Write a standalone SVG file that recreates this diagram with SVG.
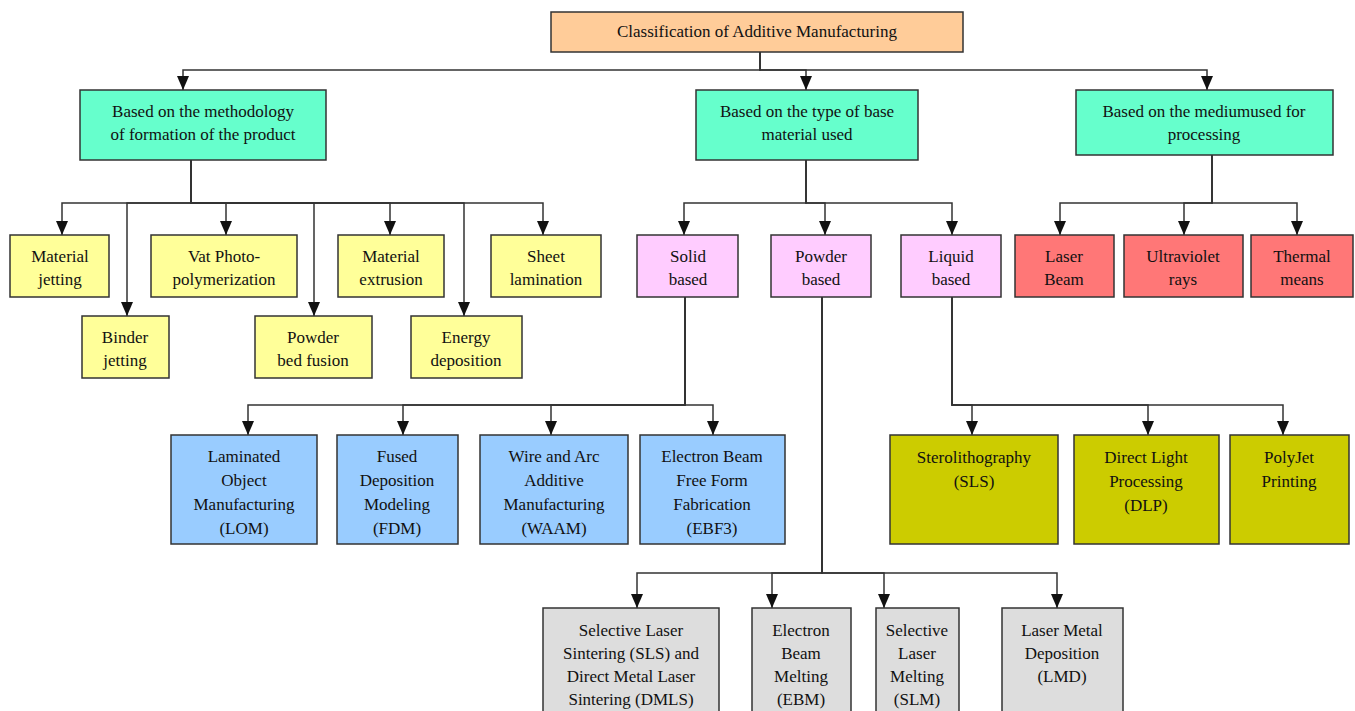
<svg xmlns="http://www.w3.org/2000/svg" width="1355" height="711" viewBox="0 0 1355 711">
<defs>
<marker id="ah" viewBox="0 0 14 12" refX="14" refY="6" markerWidth="14" markerHeight="12" markerUnits="userSpaceOnUse" orient="auto">
<path d="M0,0 L14,6 L0,12 z" fill="#111"/>
</marker>
<style>
.box{stroke:#333;stroke-width:1.5}
.root{fill:#FFCC99}
.teal{fill:#66FFCC}
.yel{fill:#FFFF99}
.pink{fill:#FFCCFF}
.red{fill:#FF7777}
.blue{fill:#99CCFF}
.olive{fill:#CCCC00}
.gray{fill:#DDDDDD}
text{font-family:"Liberation Serif","Times New Roman",serif;font-size:17px;fill:#111;text-anchor:middle}
.edge{fill:none;stroke:#333;stroke-width:1.5;marker-end:url(#ah)}
</style>
</defs>
<rect width="1355" height="711" fill="#fff"/>
<g id="connectors">
<path class="edge" d="M760,52 V70 H183 V90"/>
<path class="edge" d="M760,52 V70 H806 V90"/>
<path class="edge" d="M760,52 V70 H1207 V90"/>
<path class="edge" d="M191,160 V203 H62 V235"/>
<path class="edge" d="M191,160 V203 H127 V316"/>
<path class="edge" d="M191,160 V203 H226 V235"/>
<path class="edge" d="M191,160 V203 H314 V316"/>
<path class="edge" d="M191,160 V203 H390 V235"/>
<path class="edge" d="M191,160 V203 H464 V316"/>
<path class="edge" d="M191,160 V203 H543 V235"/>
<path class="edge" d="M806,160 V203 H684 V235"/>
<path class="edge" d="M806,160 V203 H825 V235"/>
<path class="edge" d="M806,160 V203 H952 V235"/>
<path class="edge" d="M1212,155 V203 H1060 V235"/>
<path class="edge" d="M1212,155 V203 H1184 V235"/>
<path class="edge" d="M1212,155 V203 H1297 V235"/>
<path class="edge" d="M685,297 V405 H248 V435"/>
<path class="edge" d="M685,297 V405 H403 V435"/>
<path class="edge" d="M685,297 V405 H551 V435"/>
<path class="edge" d="M685,297 V405 H713 V435"/>
<path class="edge" d="M952,297 V405 H972 V435"/>
<path class="edge" d="M952,297 V405 H1148 V435"/>
<path class="edge" d="M952,297 V405 H1283 V435"/>
<path class="edge" d="M822,297 V573 H637 V608"/>
<path class="edge" d="M822,297 V573 H772 V608"/>
<path class="edge" d="M822,297 V573 H884 V608"/>
<path class="edge" d="M822,297 V573 H1057 V608"/>
</g>
<g id="root"><rect class="box root" x="551" y="12" width="412" height="40"/><text x="757" y="37">Classification of Additive Manufacturing</text></g>
<g id="methodology"><rect class="box teal" x="80" y="90" width="246" height="70"/><text x="203" y="117">Based on the methodology</text><text x="203" y="140">of formation of the product</text></g>
<g id="material"><rect class="box teal" x="696" y="90" width="222" height="70"/><text x="807" y="117">Based on the type of base</text><text x="807" y="140">material used</text></g>
<g id="medium"><rect class="box teal" x="1076" y="90" width="257" height="65"/><text x="1204" y="117">Based on the mediumused for</text><text x="1204" y="140">processing</text></g>
<g id="material-jetting"><rect class="box yel" x="10" y="235" width="99" height="62"/><text x="60" y="262">Material</text><text x="60" y="285">jetting</text></g>
<g id="vat"><rect class="box yel" x="151" y="235" width="146" height="62"/><text x="224" y="262">Vat Photo-</text><text x="224" y="285">polymerization</text></g>
<g id="extrusion"><rect class="box yel" x="338" y="235" width="106" height="62"/><text x="391" y="262">Material</text><text x="391" y="285">extrusion</text></g>
<g id="sheet"><rect class="box yel" x="491" y="235" width="110" height="62"/><text x="546" y="262">Sheet</text><text x="546" y="285">lamination</text></g>
<g id="binder"><rect class="box yel" x="82" y="316" width="87" height="62"/><text x="125" y="343">Binder</text><text x="125" y="366">jetting</text></g>
<g id="powder-bed"><rect class="box yel" x="255" y="316" width="117" height="62"/><text x="313" y="343">Powder</text><text x="313" y="366">bed fusion</text></g>
<g id="energy"><rect class="box yel" x="411" y="316" width="111" height="62"/><text x="466" y="343">Energy</text><text x="466" y="366">deposition</text></g>
<g id="solid"><rect class="box pink" x="637" y="235" width="101" height="62"/><text x="688" y="262">Solid</text><text x="688" y="285">based</text></g>
<g id="powder"><rect class="box pink" x="771" y="235" width="100" height="62"/><text x="821" y="262">Powder</text><text x="821" y="285">based</text></g>
<g id="liquid"><rect class="box pink" x="901" y="235" width="100" height="62"/><text x="951" y="262">Liquid</text><text x="951" y="285">based</text></g>
<g id="laser-beam"><rect class="box red" x="1015" y="235" width="99" height="62"/><text x="1064" y="262">Laser</text><text x="1064" y="285">Beam</text></g>
<g id="uv"><rect class="box red" x="1124" y="235" width="119" height="62"/><text x="1183" y="262">Ultraviolet</text><text x="1183" y="285">rays</text></g>
<g id="thermal"><rect class="box red" x="1251" y="235" width="102" height="62"/><text x="1302" y="262">Thermal</text><text x="1302" y="285">means</text></g>
<g id="lom"><rect class="box blue" x="171" y="435" width="146" height="109"/><text x="244" y="462">Laminated</text><text x="244" y="486">Object</text><text x="244" y="510">Manufacturing</text><text x="244" y="534">(LOM)</text></g>
<g id="fdm"><rect class="box blue" x="337" y="435" width="121" height="109"/><text x="397" y="462">Fused</text><text x="397" y="486">Deposition</text><text x="397" y="510">Modeling</text><text x="397" y="534">(FDM)</text></g>
<g id="waam"><rect class="box blue" x="480" y="435" width="148" height="109"/><text x="554" y="462">Wire and Arc</text><text x="554" y="486">Additive</text><text x="554" y="510">Manufacturing</text><text x="554" y="534">(WAAM)</text></g>
<g id="ebf3"><rect class="box blue" x="640" y="435" width="145" height="109"/><text x="712" y="462">Electron Beam</text><text x="712" y="486">Free Form</text><text x="712" y="510">Fabrication</text><text x="712" y="534">(EBF3)</text></g>
<g id="sla"><rect class="box olive" x="890" y="435" width="168" height="109"/><text x="974" y="463">Sterolithography</text><text x="974" y="487">(SLS)</text></g>
<g id="dlp"><rect class="box olive" x="1074" y="435" width="145" height="109"/><text x="1146" y="463">Direct Light</text><text x="1146" y="487">Processing</text><text x="1146" y="511">(DLP)</text></g>
<g id="polyjet"><rect class="box olive" x="1230" y="435" width="119" height="109"/><text x="1289" y="463">PolyJet</text><text x="1289" y="487">Printing</text></g>
<g id="sls-dmls"><rect class="box gray" x="543" y="608" width="176" height="115"/><text x="631" y="636">Selective Laser</text><text x="631" y="659">Sintering (SLS) and</text><text x="631" y="682">Direct Metal Laser</text><text x="631" y="705">Sintering (DMLS)</text></g>
<g id="ebm"><rect class="box gray" x="752" y="608" width="99" height="115"/><text x="801" y="636">Electron</text><text x="801" y="659">Beam</text><text x="801" y="682">Melting</text><text x="801" y="705">(EBM)</text></g>
<g id="slm"><rect class="box gray" x="876" y="608" width="83" height="115"/><text x="917" y="636">Selective</text><text x="917" y="659">Laser</text><text x="917" y="682">Melting</text><text x="917" y="705">(SLM)</text></g>
<g id="lmd"><rect class="box gray" x="1002" y="608" width="121" height="115"/><text x="1062" y="636">Laser Metal</text><text x="1062" y="659">Deposition</text><text x="1062" y="682">(LMD)</text></g>
</svg>
